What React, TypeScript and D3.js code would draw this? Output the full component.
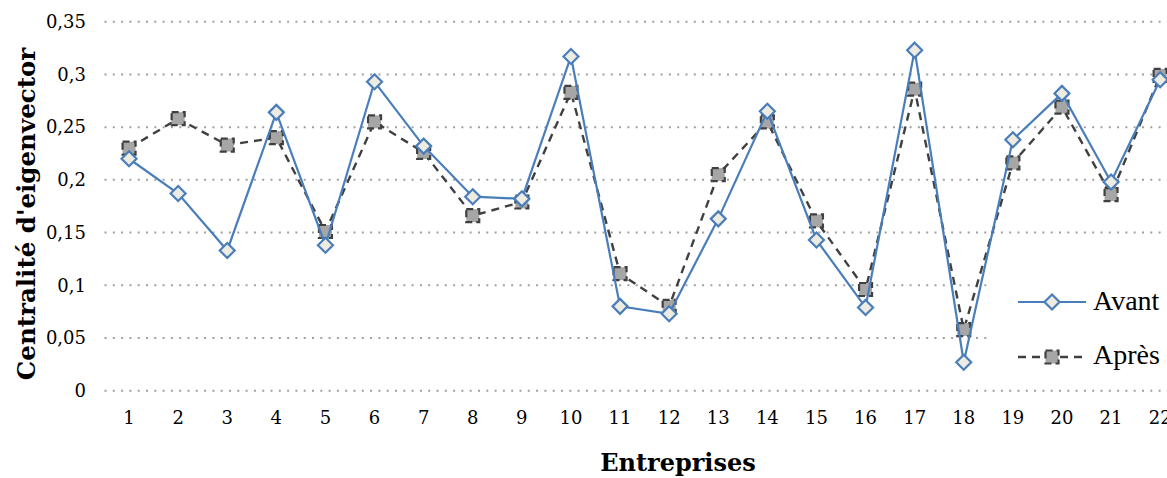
import React from "react";
import * as d3 from "d3";

const categories = ["1","2","3","4","5","6","7","8","9","10","11","12","13","14","15","16","17","18","19","20","21","22"];
const avant = [0.22,0.187,0.133,0.264,0.138,0.293,0.232,0.184,0.182,0.317,0.08,0.073,0.163,0.265,0.143,0.079,0.323,0.027,0.238,0.282,0.198,0.295];
const apres = [0.23,0.258,0.233,0.240,0.151,0.255,0.226,0.166,0.179,0.283,0.111,0.080,0.205,0.255,0.161,0.096,0.286,0.058,0.216,0.269,0.186,0.299];
const yTicks = [0,0.05,0.1,0.15,0.2,0.25,0.3,0.35];
const seriesNames = ["Avant","Après"];

const W = 1167, H = 478;
const left = 104.5, band = 49.1;
const top = 21.7, bottom = 390.7;

const fmt = (v: number) => String(+v.toFixed(2)).replace(".", ",");

export default function App() {
  const x = d3.scaleBand<string>().domain(categories).range([left, left + band * categories.length]).padding(0);
  const y = d3.scaleLinear().domain([0, 0.35]).range([bottom, top]);
  const cx = (c: string) => (x(c) as number) + x.bandwidth() / 2;
  const line = d3.line<number>().x((_, i) => cx(categories[i])).y(d => y(d));
  const blue = "#4A7EBB";
  const dark = "#404040";
  const tickFont = "'DejaVu Serif', serif";
  const diamond = (px: number, py: number, key: string | number) => (
    <path key={key} d={`M${px},${py - 7.5}L${px + 7.5},${py}L${px},${py + 7.5}L${px - 7.5},${py}Z`} fill="#EEECE1" stroke={blue} strokeWidth={2.2} />
  );
  const square = (px: number, py: number, key: string | number) => (
    <rect key={key} x={px - 6.5} y={py - 6.5} width={13} height={13} fill="#A6A6A6" stroke={dark} strokeWidth={2.2} strokeDasharray="7,4" />
  );
  return (
    <svg width={W} height={H} style={{ position: "fixed", left: 0, top: 0, background: "#fff", overflow: "hidden" }}>
      <rect width={W} height={H} fill="#fff" />
      {yTicks.map(t => (
        <g key={t}>
          <line x1={left} x2={W} y1={y(t)} y2={y(t)} stroke="#A0A0A0" strokeWidth={2} strokeDasharray="2,6.3" />
          <text x={86} y={y(t)} dy="0.35em" textAnchor="end" fontFamily={tickFont} fontSize={18} fill="#000">{fmt(t)}</text>
        </g>
      ))}
      {categories.map(c => (
        <text key={c} x={cx(c)} y={418} dy="0.35em" textAnchor="middle" fontFamily={tickFont} fontSize={18} fill="#000">{c}</text>
      ))}
      <path d={line(apres) || ""} fill="none" stroke={dark} strokeWidth={2.4} strokeDasharray="8,6" />
      {apres.map((v, i) => square(cx(categories[i]), y(v), "s" + i))}
      <path d={line(avant) || ""} fill="none" stroke={blue} strokeWidth={2.2} />
      {avant.map((v, i) => diamond(cx(categories[i]), y(v), "d" + i))}
      <text x={678} y={471} textAnchor="middle" fontFamily={tickFont} fontWeight="bold" fontSize={24} fill="#000">Entreprises</text>
      <text transform={`translate(35,214) rotate(-90)`} textAnchor="middle" fontFamily={tickFont} fontWeight="bold" fontSize={24.5} fill="#000">Centralité d'eigenvector</text>
      <g>
        <rect x={988} y={262} width={W - 988} height={112} fill="#fff" />
        <line x1={1018} x2={1086} y1={302} y2={302} stroke={blue} strokeWidth={2.2} />
        {diamond(1052, 302, "ld")}
        <text x={1093} y={310} fontFamily="'Liberation Serif', serif" fontSize={28} fill="#000">{seriesNames[0]}</text>
        <line x1={1018} x2={1086} y1={357} y2={357} stroke={dark} strokeWidth={2.4} strokeDasharray="8,6" />
        {square(1052, 357, "ls")}
        <text x={1093} y={364} fontFamily="'Liberation Serif', serif" fontSize={28} fill="#000">{seriesNames[1]}</text>
      </g>
    </svg>
  );
}
